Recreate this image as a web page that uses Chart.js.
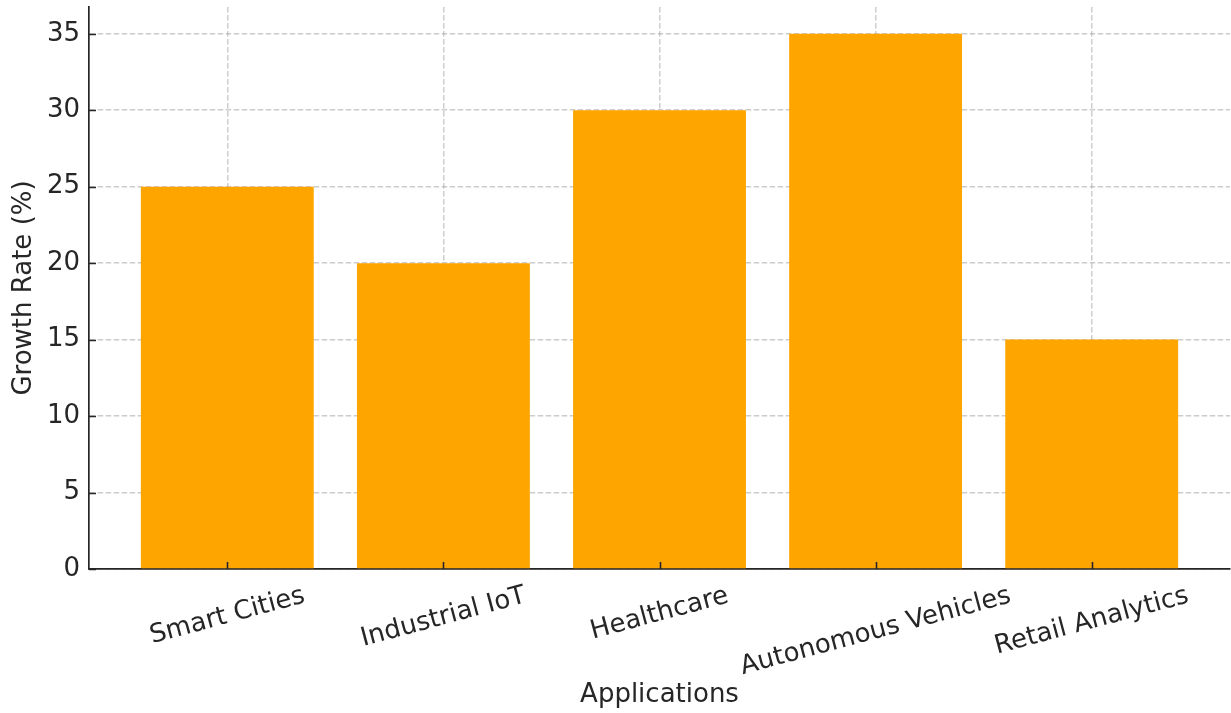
<!DOCTYPE html>
<html>
<head>
<meta charset="utf-8">
<script src="https://cdn.jsdelivr.net/npm/chart.js@4/dist/chart.umd.min.js"></script>
<style>
  html, body { margin: 0; padding: 0; background: #fff; }
  #wrap { width: 1231px; height: 713px; position: relative; }
</style>
</head>
<body>
<div id="wrap"><canvas id="myChart"></canvas></div>
<script>
// chart data
var applications = ["Smart Cities", "Industrial IoT", "Healthcare", "Autonomous Vehicles", "Retail Analytics"];
var growthRates = [25, 20, 30, 35, 15];
var yTicks = [0, 5, 10, 15, 20, 25, 30, 35];

var FONT = "'DejaVu Sans', sans-serif";
var FSIZE = 26;
var TEXT = "#262626";
var GRID = "rgba(176,176,176,0.65)";

// x tick labels rotated 15 deg and centred under the tick, plus inward tick marks
var axisPlugin = {
    id: "axisExtras",
    afterDraw: function (chart) {
        var ctx = chart.ctx;
        var xs = chart.scales.x;
        var ys = chart.scales.y;
        var area = chart.chartArea;
        var ang = 15 * Math.PI / 180;
        ctx.save();

        // tick marks pointing into the plot
        ctx.strokeStyle = TEXT;
        ctx.lineWidth = 1.6;
        ctx.beginPath();
        for (var i = 0; i < applications.length; i++) {
            var tx = Math.round(xs.getPixelForValue(i)) + 0.5;
            ctx.moveTo(tx, area.bottom);
            ctx.lineTo(tx, area.bottom - 7);
        }
        for (var j = 0; j < yTicks.length; j++) {
            var ty = Math.round(ys.getPixelForValue(yTicks[j])) + 0.5;
            ctx.moveTo(area.left, ty);
            ctx.lineTo(area.left + 7, ty);
        }
        ctx.stroke();

        ctx.font = FSIZE + "px " + FONT;
        ctx.fillStyle = TEXT;
        ctx.textAlign = "center";
        ctx.textBaseline = "middle";
        for (var k = 0; k < applications.length; k++) {
            var px = xs.getPixelForValue(k);
            var w = ctx.measureText(applications[k]).width;
            var h = 30;
            var bh = w * Math.sin(ang) + h * Math.cos(ang);
            var cy = xs.top + 12 + bh / 2;
            ctx.save();
            ctx.translate(px, cy);
            ctx.rotate(-ang);
            ctx.fillText(applications[k], 0, 0);
            ctx.restore();
        }
        ctx.restore();
    }
};

var points = [];
for (var i = 0; i < growthRates.length; i++) {
    points.push({ x: i, y: growthRates[i] });
}

var chart = new Chart(document.getElementById("myChart"), {
    type: "bar",
    data: {
        datasets: [{
            label: "Growth Rate (%)",
            data: points,
            backgroundColor: "#FFA500",
            borderWidth: 0,
            barPercentage: 0.8,
            categoryPercentage: 1.0
        }]
    },
    options: {
        responsive: true,
        maintainAspectRatio: false,
        animation: false,
        layout: { padding: { top: 7, right: 1, left: 0, bottom: 0 } },
        plugins: {
            legend: { display: false },
            tooltip: { enabled: false }
        },
        scales: {
            x: {
                type: "linear",
                min: -0.64,
                max: 4.64,
                offset: false,
                z: 1,
                afterBuildTicks: function (scale) {
                    scale.ticks = applications.map(function (a, i) { return { value: i }; });
                },
                afterFit: function (scale) {
                    scale.height = 144;
                    scale.paddingLeft = 0;
                    scale.paddingRight = 0;
                },
                grid: {
                    offset: false,
                    color: GRID,
                    lineWidth: 1.5,
                    drawTicks: false
                },
                border: { display: true, color: TEXT, width: 1.7, dash: [5.5, 2.5] },
                ticks: { display: false },
                title: {
                    display: true,
                    text: "Applications",
                    color: TEXT,
                    font: { family: FONT, size: FSIZE },
                    padding: { top: 0, bottom: 2 }
                }
            },
            y: {
                min: 0,
                max: 36.75,
                z: 1,
                afterBuildTicks: function (scale) {
                    scale.ticks = yTicks.map(function (v) { return { value: v }; });
                },
                afterFit: function (scale) {
                    scale.width = 89;
                    scale.paddingTop = 0;
                    scale.paddingBottom = 0;
                },
                grid: {
                    color: GRID,
                    lineWidth: 1.5,
                    drawTicks: false
                },
                border: { display: true, color: TEXT, width: 1.7, dash: [5.5, 2.5] },
                ticks: {
                    color: TEXT,
                    font: { family: FONT, size: FSIZE },
                    padding: 9
                },
                title: {
                    display: true,
                    text: "Growth Rate (%)",
                    color: TEXT,
                    font: { family: FONT, size: FSIZE },
                    padding: { top: 9, bottom: 0 }
                }
            }
        }
    },
    plugins: [axisPlugin]
});
</script>
</body>
</html>
